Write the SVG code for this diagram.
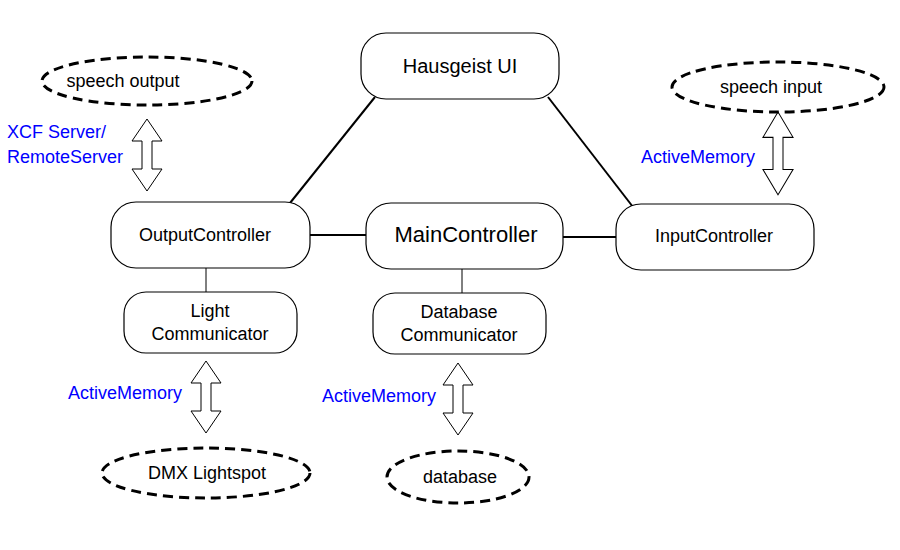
<svg xmlns="http://www.w3.org/2000/svg" width="900" height="550" viewBox="0 0 900 550">
<style>
.n{fill:#fff;stroke:#000;stroke-width:1.2}
.e{fill:#fff;stroke:#000;stroke-width:3;stroke-dasharray:10,6}
.t{font-family:"Liberation Sans",Arial,sans-serif;font-size:18px;text-anchor:middle;fill:#000}
.b{font-family:"Liberation Sans",Arial,sans-serif;font-size:18px;fill:#0000ff}
.c{stroke:#000;stroke-width:2;fill:none}
.c1{stroke:#000;stroke-width:1;fill:none}
.a{fill:#fff;stroke:#000;stroke-width:1}
</style>
<defs>
<path id="da" d="M0,0 L15,22 L5,22 L5,50 L15,50 L0,72 L-15,50 L-5,50 L-5,22 L-15,22 Z"/>
</defs>
<g id="connectors">
<line class="c" x1="375" y1="97" x2="290" y2="203"/>
<line class="c" x1="548" y1="97" x2="633" y2="207"/>
<line class="c" x1="310" y1="235" x2="366" y2="235"/>
<line class="c" x1="563" y1="237" x2="616" y2="237"/>
<line class="c1" x1="206" y1="268" x2="206" y2="292"/>
<line class="c1" x1="462" y1="269" x2="462" y2="293"/>
<use href="#da" class="a" transform="translate(147,119)"/>
<use href="#da" class="a" transform="translate(778,112) scale(1,1.15)"/>
<use href="#da" class="a" transform="translate(206,361)"/>
<use href="#da" class="a" transform="translate(458,363)"/>
</g>
<g id="hausgeist"><rect class="n" x="361" y="33" width="198" height="66" rx="25"/><text class="t" x="460" y="73" style="font-size:20px">Hausgeist UI</text></g>
<g id="output"><rect class="n" x="111" y="202" width="199" height="66" rx="25"/><text class="t" x="205" y="241">OutputController</text></g>
<g id="main"><rect class="n" x="366" y="203" width="197" height="66" rx="25"/><text class="t" x="466" y="242" style="font-size:22px">MainController</text></g>
<g id="input"><rect class="n" x="616" y="204" width="198" height="66" rx="25"/><text class="t" x="714" y="242">InputController</text></g>
<g id="light"><rect class="n" x="124" y="292" width="173" height="61" rx="22"/><text class="t" x="210" y="317">Light</text><text class="t" x="210" y="340">Communicator</text></g>
<g id="dbcomm"><rect class="n" x="373" y="293" width="173" height="61" rx="22"/><text class="t" x="459" y="318">Database</text><text class="t" x="459" y="341">Communicator</text></g>
<g id="speechout"><ellipse class="e" cx="147" cy="81" rx="105" ry="24"/><text class="t" x="123" y="87">speech output</text></g>
<g id="speechin"><ellipse class="e" cx="778" cy="87" rx="106" ry="25"/><text class="t" x="771" y="93">speech input</text></g>
<g id="dmx"><ellipse class="e" cx="206" cy="473" rx="104" ry="25"/><text class="t" x="207" y="479">DMX Lightspot</text></g>
<g id="database"><ellipse class="e" cx="458" cy="477" rx="71" ry="26"/><text class="t" x="460" y="483">database</text></g>
<g id="labels">
<text class="b" x="7" y="138">XCF Server/</text>
<text class="b" x="7" y="163">RemoteServer</text>
<text class="b" x="641" y="163">ActiveMemory</text>
<text class="b" x="68" y="399">ActiveMemory</text>
<text class="b" x="322" y="402">ActiveMemory</text>
</g>
</svg>
